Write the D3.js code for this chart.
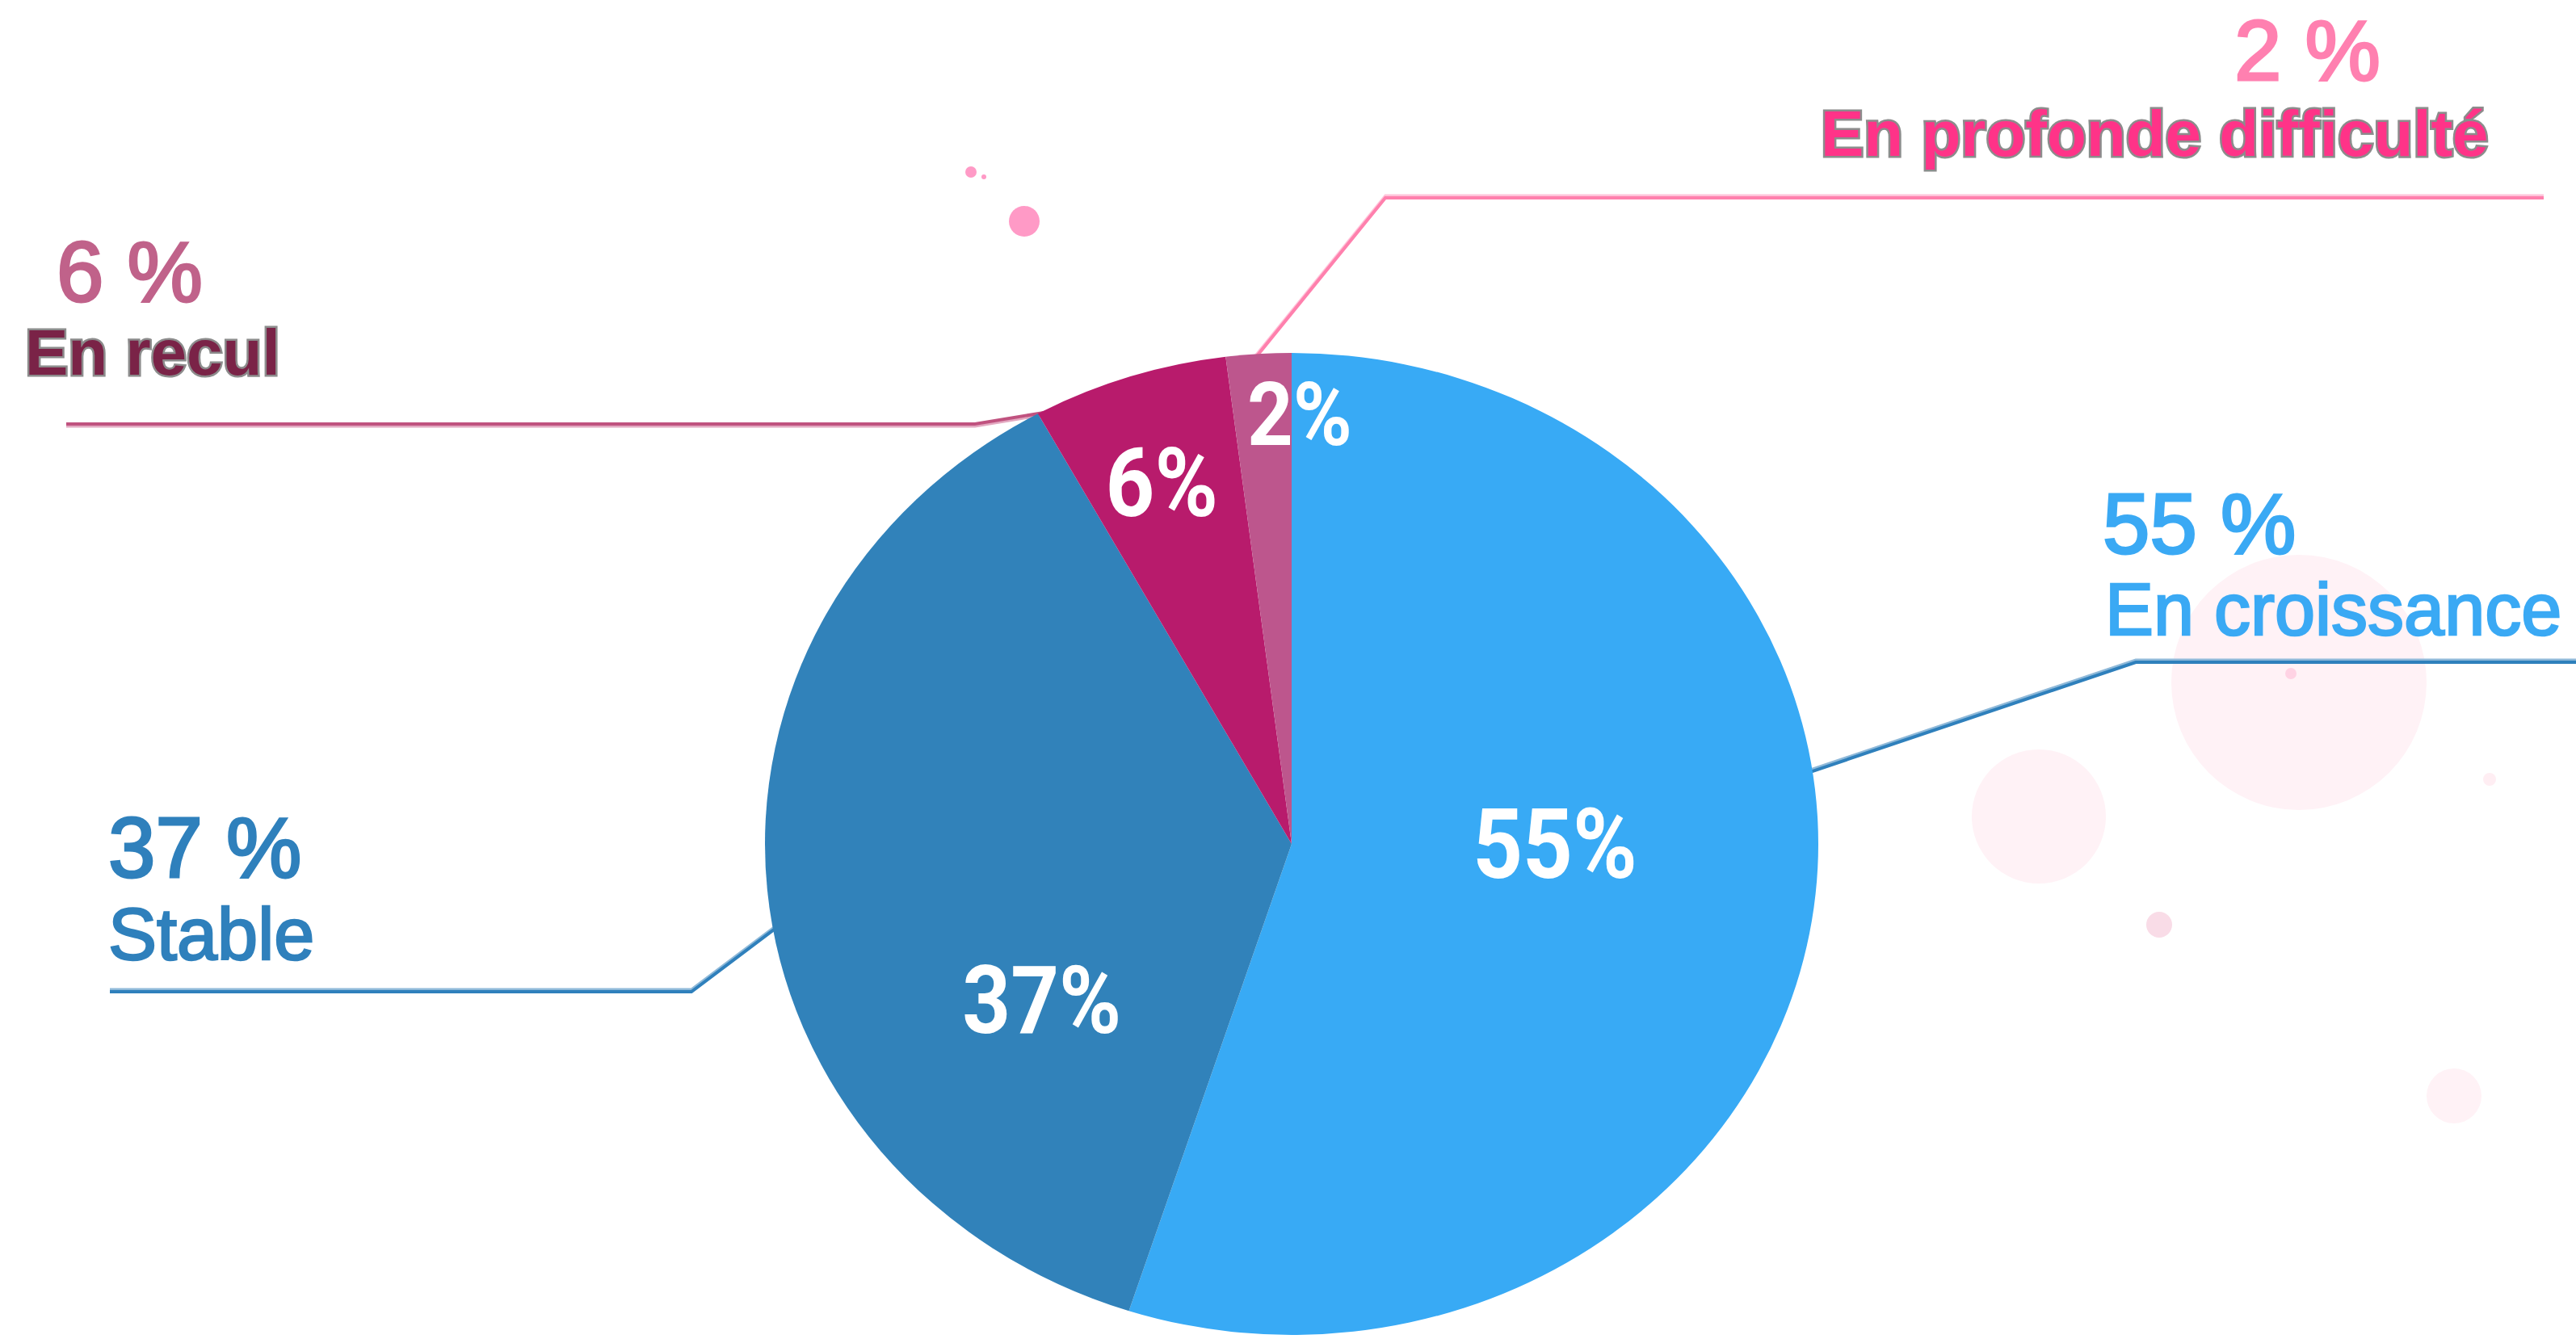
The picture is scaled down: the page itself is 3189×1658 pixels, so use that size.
<!DOCTYPE html>
<html>
<head>
<meta charset="utf-8">
<script src="https://cdn.jsdelivr.net/npm/d3@7"></script>
<style>
  html, body { margin: 0; padding: 0; background: #ffffff; }
  svg { display: block; }
</style>
</head>
<body>
<svg id="chart" width="3189" height="1658"></svg>
<script>
// ---- data ----
const categories = ["En croissance", "Stable", "En recul", "En profonde difficulté"];
const values = [55, 37, 6, 2];
const sliceLabels = ["55%", "37%", "6%", "2%"];
const valueLabels = ["55 %", "37 %", "6 %", "2 %"];

// ---- styles / layout ----
const W = 3189, H = 1658;
const cx = 1599, cy = 1045, rx = 652, ry = 608;
const sliceColors = ["#38aaf5", "#3182ba", "#b81b6c", "#bd568d"];
const valueColors = ["#3aa9f4", "#2f80bc", "#c0628a", "#ff80b0"];
const nameColors = ["#3aa9f4", "#2f80bc", "#7a2347", "#ff3388"];
const lineColors = ["#2f80bc", "#2f80bc", "#c0527f", "#ff80ad"];
const lineShadow = ["#8fb9d9", "#8fb9d9", "#e3a9c1", "#ffc4da"];
// inner label placement: [angle (deg, clockwise from top), radius fraction]
const innerPlace = [[89.8, 0.50], [236.3, 0.57], [341.5, 0.777], [1.0, 0.878]];
const innerSize = [120, 116, 118, 110];
// leader lines: pie-edge angle, elbow, end
const leaderAngle = [81.6, 260.2, 333, 355.9];
const leaderElbow = [[2644, 820], [856, 1228], [1207, 525], [1715, 245]];
const leaderEnd = [[3189, 820], [136, 1228], [82, 525], [3149, 245]];
const shadowOffset = [-3, -3, 3, -3];
// outer texts: value label and name positions (left x, baseline y)
const valuePos = [[2603, 685], [134, 1086], [70, 373], [2766, 99]];
const namePos = [[2606, 786], [134, 1188], [31, 464], [2254, 193]];
const nameBold = [false, false, true, true];
const nameSize = [90, 90, 80, 80];
// decorative bubbles
const bubbles = [
  [2846, 845, 158, "#fff2f6"], [2524, 1011, 83, "#fff2f6"], [3038, 1357, 34, "#fff2f6"],
  [3082, 965, 8, "#ffeef3"], [2673, 1145, 16, "#f9dce7"], [2836, 834, 7, "#ffd3e4"],
  [1202, 213, 7, "#ff9ac6"], [1218, 219, 3, "#ff9ac6"], [1268, 274, 19, "#ff9ac6"]
];

const svg = d3.select("#chart").attr("viewBox", `0 0 ${W} ${H}`);

// bubbles
svg.append("g").selectAll("circle").data(bubbles).join("circle")
  .attr("cx", d => d[0]).attr("cy", d => d[1]).attr("r", d => d[2]).attr("fill", d => d[3]);

const toRad = d => d * Math.PI / 180;
const edgePoint = (deg, f = 1) => [cx + rx * f * Math.sin(toRad(deg)), cy - ry * f * Math.cos(toRad(deg))];

// leader lines
const lineGen = d3.line();
const lg = svg.append("g");
values.forEach((v, i) => {
  const pts = [edgePoint(leaderAngle[i], 0.99), leaderElbow[i], leaderEnd[i]];
  const sh = pts.map(p => [p[0], p[1] + shadowOffset[i]]);
  lg.append("path").attr("d", lineGen(sh)).attr("fill", "none")
    .attr("stroke", lineShadow[i]).attr("stroke-width", 3);
  lg.append("path").attr("d", lineGen(pts)).attr("fill", "none")
    .attr("stroke", lineColors[i]).attr("stroke-width", 4);
});

// pie (elliptical)
const pie = d3.pie().sort(null).value(d => d).startAngle(0).endAngle(2 * Math.PI);
const arcs = pie(values);
const arc = d3.arc().innerRadius(0).outerRadius(rx);
svg.append("g")
  .attr("transform", `translate(${cx},${cy}) scale(1,${ry / rx})`)
  .selectAll("path").data(arcs).join("path")
  .attr("d", arc)
  .attr("fill", (d, i) => sliceColors[i]);

// inner labels (condensed look)
svg.append("g").selectAll("text").data(arcs).join("text")
  .attr("transform", (d, i) => {
    const p = edgePoint(innerPlace[i][0], innerPlace[i][1]);
    return `translate(${p[0]},${p[1]}) scale(0.9,1)`;
  })
  .attr("dy", "0.36em")
  .attr("text-anchor", "middle")
  .attr("font-family", "Roboto, 'Liberation Sans', sans-serif")
  .attr("font-weight", 700)
  .attr("font-size", (d, i) => innerSize[i])
  .attr("fill", "#ffffff")
  .text((d, i) => sliceLabels[i]);

// outer labels
const og = svg.append("g").attr("font-family", "'Liberation Sans', Arial, sans-serif");
values.forEach((v, i) => {
  og.append("text")
    .attr("x", valuePos[i][0]).attr("y", valuePos[i][1])
    .attr("font-size", 105)
    .attr("fill", valueColors[i])
    .attr("stroke", valueColors[i]).attr("stroke-width", 3)
    .text(valueLabels[i]);
  const t = og.append("text")
    .attr("x", namePos[i][0]).attr("y", namePos[i][1])
    .attr("font-size", nameSize[i])
    .attr("fill", nameColors[i])
    .text(categories[i]);
  if (nameBold[i]) {
    t.attr("font-weight", 700)
     .attr("stroke", "#8c8c8c").attr("stroke-width", 5)
     .attr("paint-order", "stroke");
  } else {
    t.attr("stroke", nameColors[i]).attr("stroke-width", 2.5);
  }
});
</script>
</body>
</html>
